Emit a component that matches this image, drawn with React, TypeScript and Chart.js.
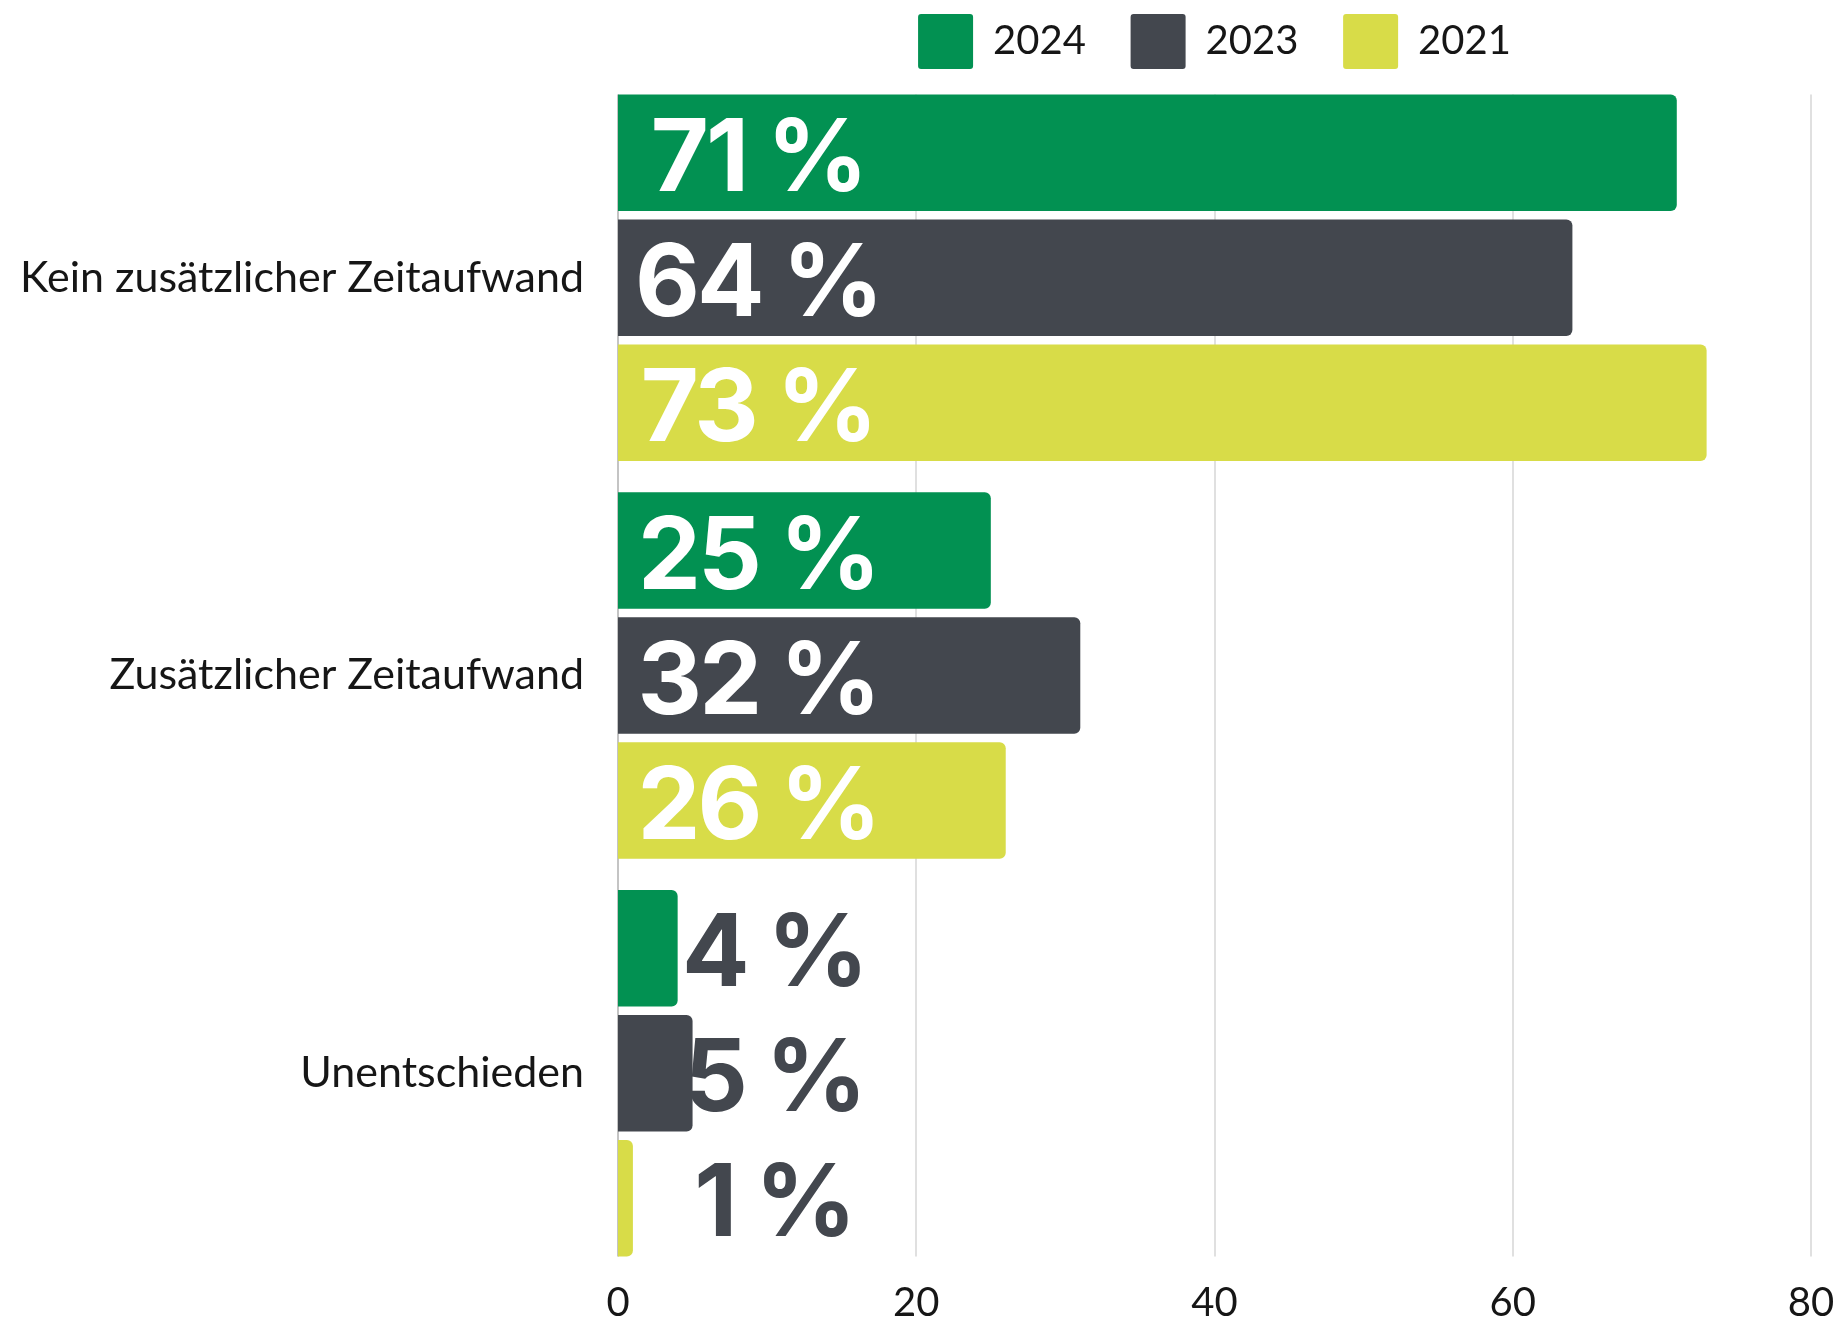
import React, { useEffect, useRef } from "react";
import { Chart, registerables } from "chart.js";

Chart.register(...registerables);

// ---- data ----
const CATEGORIES = ["Kein zusätzlicher Zeitaufwand", "Zusätzlicher Zeitaufwand", "Unentschieden"];
const SERIES_NAMES = ["2024", "2023", "2021"];
const VALUES_2024 = [71, 25, 4];
const VALUES_2023 = [64, 31, 5];
const VALUES_2021 = [73, 26, 1];
const LABELS_2024 = ["71 %", "25 %", "4 %"];
const LABELS_2023 = ["64 %", "32 %", "5 %"];
const LABELS_2021 = ["73 %", "26 %", "1 %"];
const X_MIN = 0;
const X_MAX = 80;
const X_STEP = 20;

// ---- styles ----
const COLORS = ["#029152", "#43474E", "#D8DC48"];
const VALUE_LABELS = [LABELS_2024, LABELS_2023, LABELS_2021];
const SERIES_VALUES = [VALUES_2024, VALUES_2023, VALUES_2021];
const TEXT_COLOR = "#161616";
const LEGEND_GAP = "   ";

const clippedGrid = {
  id: "clippedGrid",
  beforeDatasetsDraw(chart: any) {
    const xs = chart.scales.x;
    const n = chart.data.datasets.length;
    const firstMeta = chart.getDatasetMeta(0);
    const lastMeta = chart.getDatasetMeta(n - 1);
    const first = firstMeta.data[0];
    const last = lastMeta.data[lastMeta.data.length - 1];
    if (!first || !last) return;
    const top = first.y - first.height / 2;
    const bottom = last.y + last.height / 2;
    const ctx = chart.ctx;
    ctx.save();
    xs.ticks.forEach((t: any) => {
      const px = Math.round(xs.getPixelForValue(t.value));
      ctx.strokeStyle = t.value === X_MIN ? "#c4c4c4" : "#e0e0e0";
      ctx.lineWidth = 2;
      ctx.beginPath();
      ctx.moveTo(px, top);
      ctx.lineTo(px, bottom);
      ctx.stroke();
    });
    ctx.restore();
  },
};

const valueLabels = {
  id: "valueLabels",
  afterDatasetsDraw(chart: any) {
    const ctx = chart.ctx;
    ctx.save();
    ctx.font = "700 100px Inter";
    try {
      (ctx as any).letterSpacing = "-3px";
    } catch (e) {}
    ctx.textAlign = "center";
    ctx.textBaseline = "middle";
    chart.data.datasets.forEach((_ds: any, di: number) => {
      const meta = chart.getDatasetMeta(di);
      meta.data.forEach((bar: any, i: number) => {
        const text = VALUE_LABELS[di][i];
        const w = ctx.measureText(text).width;
        const inside = bar.x - bar.base > w + 60;
        ctx.fillStyle = inside ? "#ffffff" : "#43474E";
        const cx = bar.base + (inside ? 140 : 156);
        ctx.fillText(text, cx, bar.y + 8);
      });
    });
    ctx.restore();
  },
};

export default function App() {
  const canvasRef = useRef<HTMLCanvasElement | null>(null);

  useEffect(() => {
    let chart: Chart | null = null;
    let cancelled = false;
    const fontsReady = (document as any).fonts
      ? Promise.all([
          (document as any).fonts.load("700 100px Inter"),
          (document as any).fonts.load("40px Lato"),
        ]).catch(() => null)
      : Promise.resolve(null);

    fontsReady.then(() => {
      if (cancelled || !canvasRef.current) return;
      chart = new Chart(canvasRef.current, {
        type: "bar",
        data: {
          labels: CATEGORIES,
          datasets: SERIES_NAMES.map((name, i) => ({
            label: name,
            data: SERIES_VALUES[i],
            backgroundColor: COLORS[i],
            borderWidth: 0,
            borderRadius: 6,
            categoryPercentage: 0.943,
            barPercentage: 0.932,
          })),
        },
        options: {
          indexAxis: "y",
          animation: false,
          responsive: true,
          maintainAspectRatio: false,
          layout: { padding: { left: 0, right: 29, top: 0, bottom: 0 } },
          plugins: {
            tooltip: { enabled: false },
            legend: {
              position: "top",
              align: "center",
              fullSize: false,
              labels: {
                boxWidth: 55,
                boxHeight: 55,
                padding: 14,
                color: TEXT_COLOR,
                useBorderRadius: true,
                borderRadius: 3,
                font: { family: "Lato", size: 40 },
                generateLabels(c: any) {
                  const items = (Chart as any).defaults.plugins.legend.labels.generateLabels(c);
                  items.forEach((it: any, idx: number) => {
                    if (idx < items.length - 1) it.text = it.text + LEGEND_GAP;
                    it.lineWidth = 0;
                  });
                  return items;
                },
              },
            },
          },
          scales: {
            x: {
              type: "linear",
              min: X_MIN,
              max: X_MAX,
              ticks: {
                stepSize: X_STEP,
                color: TEXT_COLOR,
                padding: 3,
                font: { family: "Lato", size: 40, lineHeight: 1 },
              },
              grid: { display: false },
              border: { display: false },
              afterFit(scale: any) {
                scale.height = 51;
              },
            },
            y: {
              type: "category",
              ticks: {
                color: TEXT_COLOR,
                padding: 34,
                font: { family: "Lato", size: 43 },
              },
              grid: { display: false, drawTicks: false },
              border: { display: false },
              afterFit(scale: any) {
                scale.width = 618;
                scale.paddingTop = 0;
                scale.paddingBottom = 0;
              },
            },
          },
        },
        plugins: [clippedGrid, valueLabels],
      } as any);
    });

    return () => {
      cancelled = true;
      if (chart) chart.destroy();
    };
  }, []);

  return (
    <div style={{ position: "absolute", left: 0, top: 0, width: 1840, height: 1323, background: "#ffffff" }}>
      <canvas ref={canvasRef} />
    </div>
  );
}
